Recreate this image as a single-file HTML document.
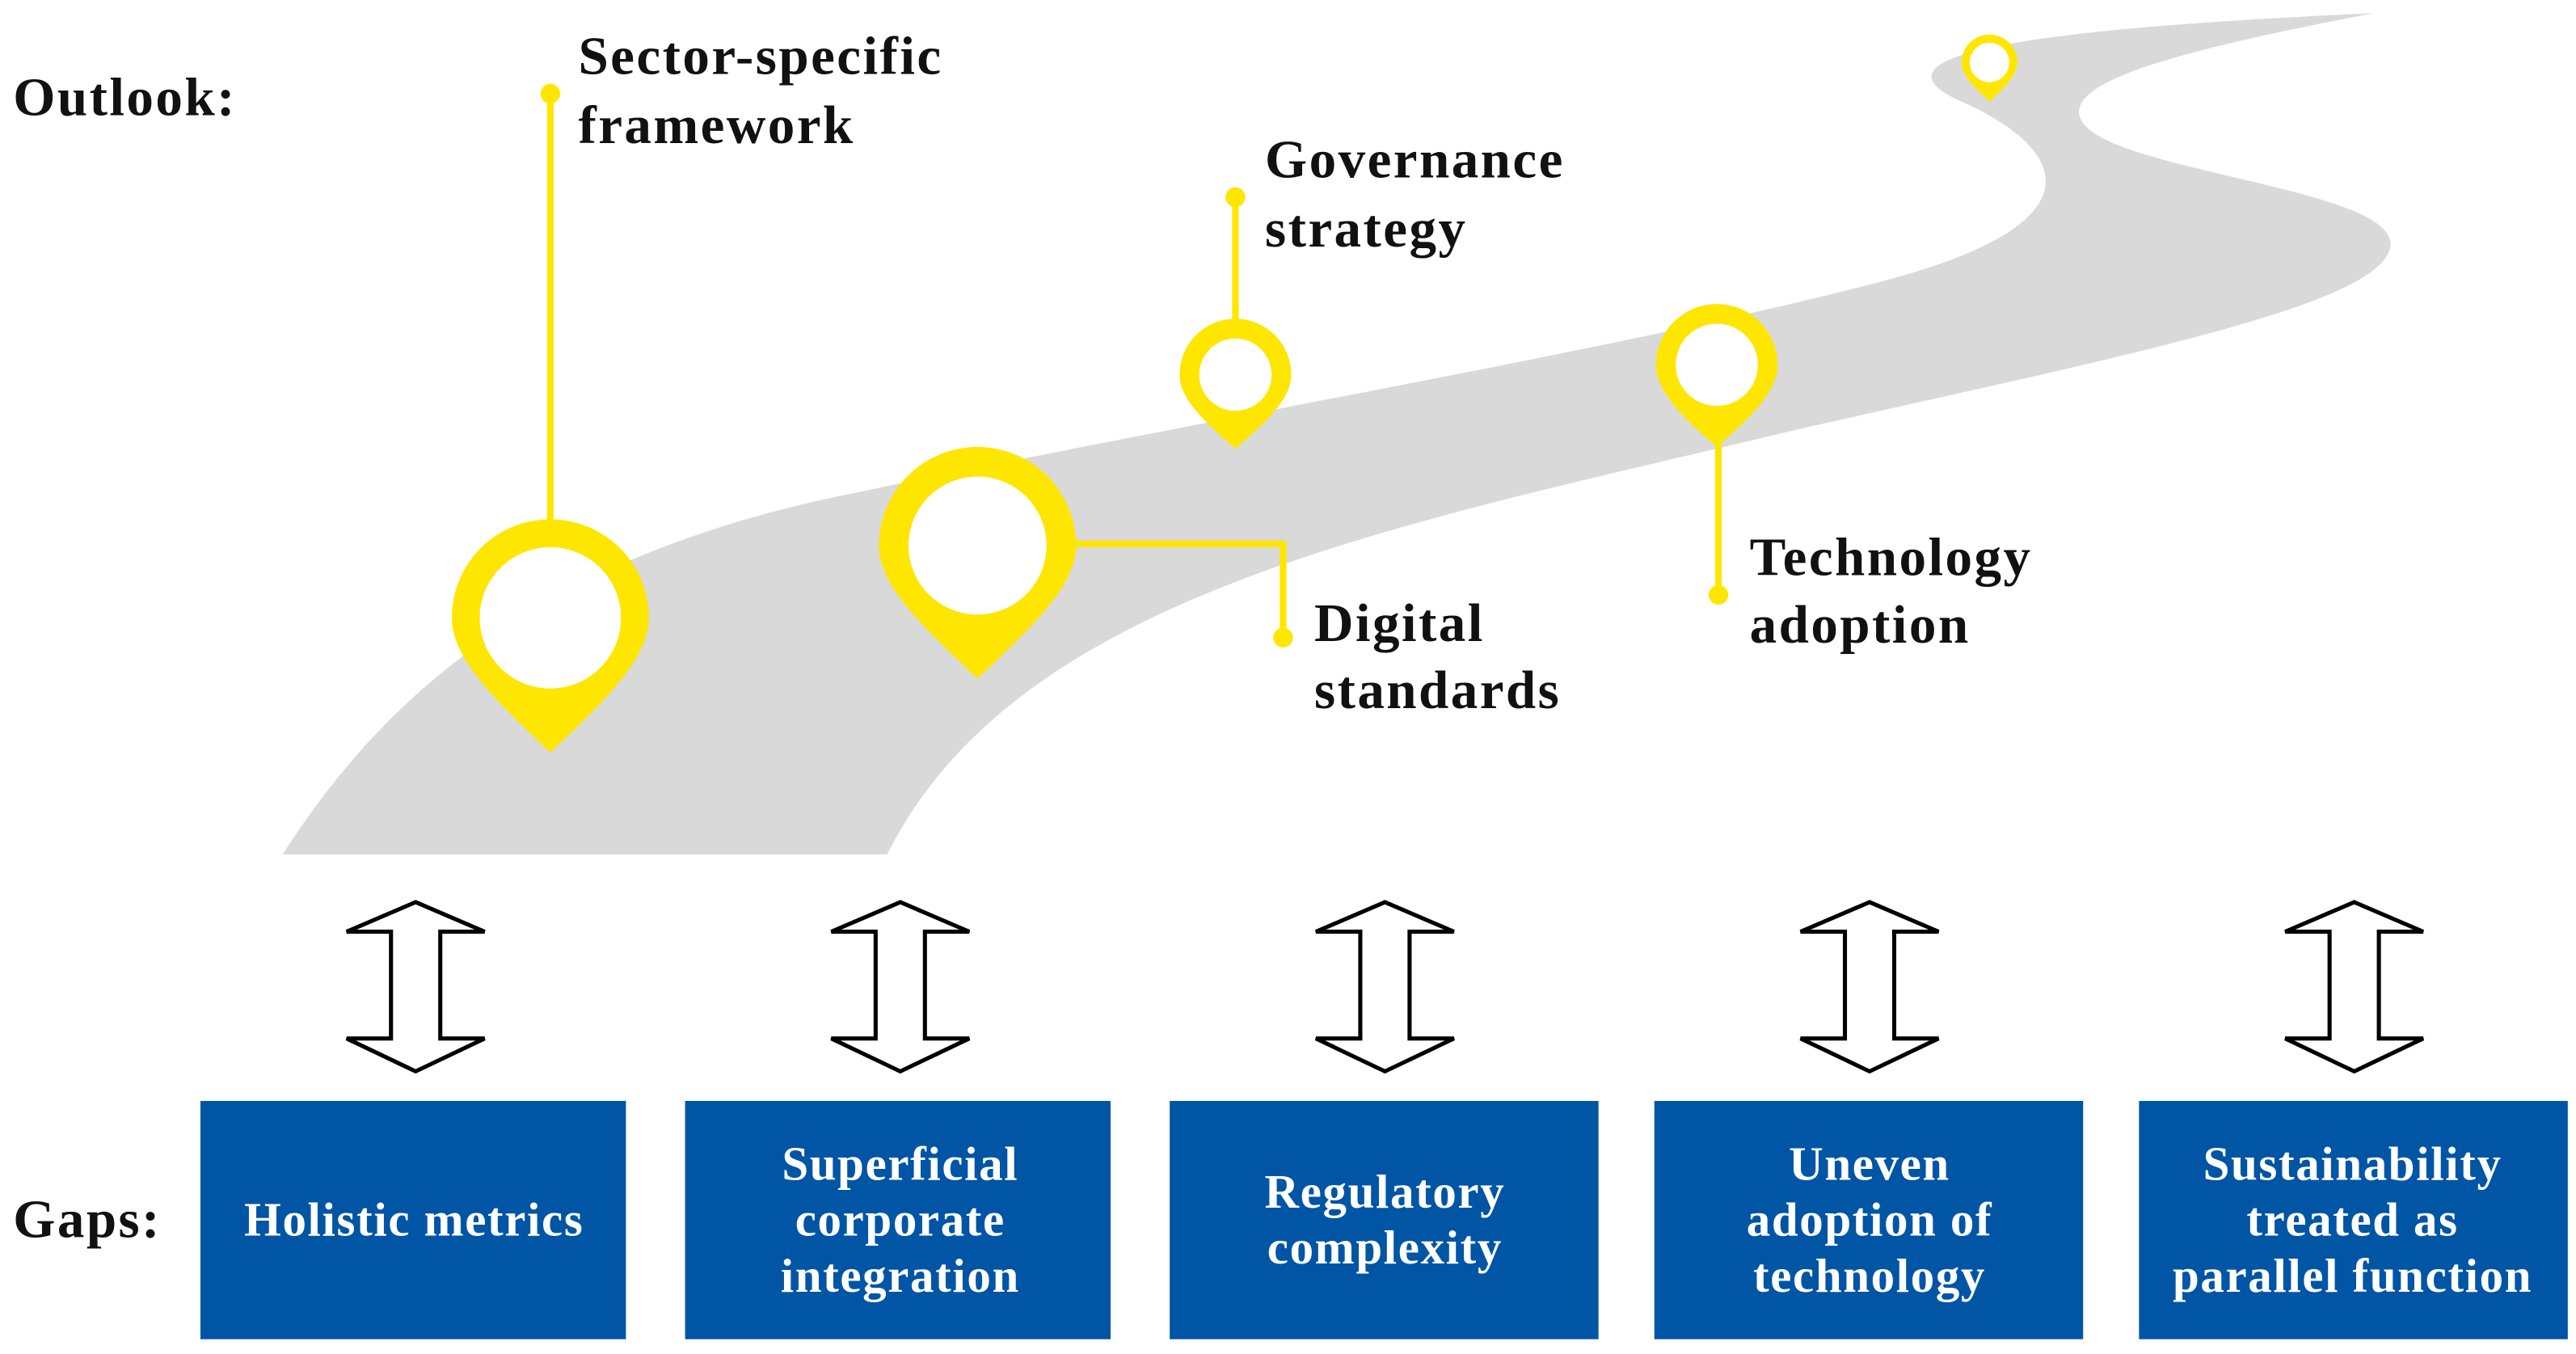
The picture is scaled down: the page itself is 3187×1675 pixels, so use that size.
<!DOCTYPE html>
<html><head><meta charset="utf-8"><style>
html,body{margin:0;padding:0;background:#fff;width:3187px;height:1675px;overflow:hidden}
svg{display:block}
text{font-family:"Liberation Serif",serif;font-weight:bold}
</style></head><body>
<svg width="3187" height="1675" viewBox="0 0 1568 824" preserveAspectRatio="none" xmlns="http://www.w3.org/2000/svg">
<path d="M172,520 C230,430 320,340 520,300 C760,250 1000,210 1150,170 C1280,135 1260,90 1190,60 C1140,35 1220,18 1445,8 C1330,30 1250,50 1268,75 C1290,105 1460,115 1455,150 C1450,185 1300,215 1100,260 C850,320 620,360 540,520 Z" fill="#d9d9d9"/>
<g stroke="#ffe600" stroke-width="4" fill="none">
<line x1="335" y1="57" x2="335" y2="320"/>
<polyline points="650,331 781,331 781,388"/>
<line x1="752" y1="120" x2="752" y2="200"/>
<line x1="1046" y1="260" x2="1046" y2="362"/>
</g>
<g fill="#ffe600">
<circle cx="335" cy="57" r="6"/><circle cx="781" cy="388" r="6"/><circle cx="752" cy="120" r="6"/><circle cx="1046" cy="362" r="6"/>
<path d="M275,376 A60,60 0 1 1 395,376 C395,400 370,425 335,458 C300,425 275,400 275,376 Z"/>
<path d="M535,332 A60,60 0 1 1 655,332 C655,356 630,380 595,413 C560,380 535,356 535,332 Z"/>
<path d="M718,228 A34,34 0 1 1 786,228 C786,242 772,256 752,273 C732,256 718,242 718,228 Z"/>
<path d="M1008,222 A37,37 0 1 1 1082,222 C1082,238 1066,254 1045,272 C1024,254 1008,238 1008,222 Z"/>
<path d="M1194,38 A17,17 0 1 1 1228,38 C1228,46 1220,53 1211,62 C1202,53 1194,46 1194,38 Z"/>
</g>
<g fill="#fff">
<circle cx="335" cy="376" r="43"/><circle cx="595" cy="332" r="42"/><circle cx="752" cy="228" r="22"/><circle cx="1045" cy="222" r="25"/><circle cx="1211" cy="38" r="12"/>
</g>
<g font-size="33" fill="#111" letter-spacing="1.2">
<text x="8" y="70">Outlook:</text>
<text x="352" y="45">Sector-specific</text><text x="352" y="87">framework</text>
<text x="770" y="108">Governance</text><text x="770" y="150">strategy</text>
<text x="800" y="390">Digital</text><text x="800" y="431">standards</text>
<text x="1065" y="350">Technology</text><text x="1065" y="391">adoption</text>
<text x="8" y="753">Gaps:</text>
</g>
<g fill="#fff" stroke="#000" stroke-width="2.5">
<path d="M253,549 L295,567 L268,567 L268,632 L295,632 L253,652 L211,632 L238,632 L238,567 L211,567 Z"/>
<path d="M548,549 L590,567 L563,567 L563,632 L590,632 L548,652 L506,632 L533,632 L533,567 L506,567 Z"/>
<path d="M843,549 L885,567 L858,567 L858,632 L885,632 L843,652 L801,632 L828,632 L828,567 L801,567 Z"/>
<path d="M1138,549 L1180,567 L1153,567 L1153,632 L1180,632 L1138,652 L1096,632 L1123,632 L1123,567 L1096,567 Z"/>
<path d="M1433,549 L1475,567 L1448,567 L1448,632 L1475,632 L1433,652 L1391,632 L1418,632 L1418,567 L1391,567 Z"/>
</g>
<g fill="#0055a5">
<rect x="122" y="670" width="259" height="145"/><rect x="417" y="670" width="259" height="145"/><rect x="712" y="670" width="261" height="145"/><rect x="1007" y="670" width="261" height="145"/><rect x="1302" y="670" width="261" height="145"/>
</g>
<g fill="#fff" font-size="29" text-anchor="middle" letter-spacing="0.8">
<text x="252" y="752">Holistic metrics</text>
<text x="548" y="718">Superficial</text><text x="548" y="752">corporate</text><text x="548" y="786">integration</text>
<text x="843" y="735">Regulatory</text><text x="843" y="769">complexity</text>
<text x="1138" y="718">Uneven</text><text x="1138" y="752">adoption of</text><text x="1138" y="786">technology</text>
<text x="1432" y="718">Sustainability</text><text x="1432" y="752">treated as</text><text x="1432" y="786">parallel function</text>
</g>
</svg>
</body></html>
